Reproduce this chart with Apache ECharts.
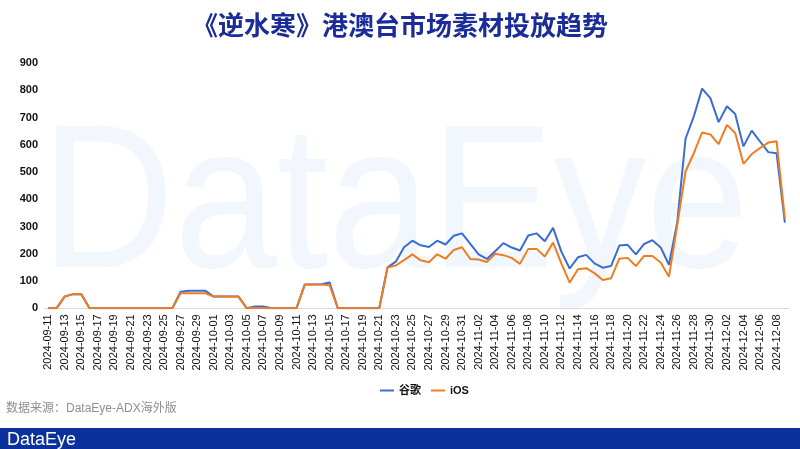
<!DOCTYPE html>
<html>
<head>
<meta charset="utf-8">
<script src="https://cdn.jsdelivr.net/npm/echarts@6/dist/echarts.min.js"></script>
<style>
html,body{margin:0;padding:0;background:#fff;}
#c{width:800px;height:449px;}
</style>
</head>
<body>
<div id="c"></div>
<script>
const categories = [
'2024-09-11','2024-09-12','2024-09-13','2024-09-14','2024-09-15','2024-09-16','2024-09-17','2024-09-18','2024-09-19','2024-09-20',
'2024-09-21','2024-09-22','2024-09-23','2024-09-24','2024-09-25','2024-09-26','2024-09-27','2024-09-28','2024-09-29','2024-09-30',
'2024-10-01','2024-10-02','2024-10-03','2024-10-04','2024-10-05','2024-10-06','2024-10-07','2024-10-08','2024-10-09','2024-10-10',
'2024-10-11','2024-10-12','2024-10-13','2024-10-14','2024-10-15','2024-10-16','2024-10-17','2024-10-18','2024-10-19','2024-10-20',
'2024-10-21','2024-10-22','2024-10-23','2024-10-24','2024-10-25','2024-10-26','2024-10-27','2024-10-28','2024-10-29','2024-10-30',
'2024-10-31','2024-11-01','2024-11-02','2024-11-03','2024-11-04','2024-11-05','2024-11-06','2024-11-07','2024-11-08','2024-11-09',
'2024-11-10','2024-11-11','2024-11-12','2024-11-13','2024-11-14','2024-11-15','2024-11-16','2024-11-17','2024-11-18','2024-11-19',
'2024-11-20','2024-11-21','2024-11-22','2024-11-23','2024-11-24','2024-11-25','2024-11-26','2024-11-27','2024-11-28','2024-11-29',
'2024-11-30','2024-12-01','2024-12-02','2024-12-03','2024-12-04','2024-12-05','2024-12-06','2024-12-07','2024-12-08','2024-12-09'
];
const googleValues = [
0,0,43,52,52,0,0,0,0,0,
0,0,0,0,0,0,61,64,64,64,
43,43,43,43,0,7,7,0,0,0,
0,87,87,88,95,0,0,0,0,0,
0,150,171,224,248,231,225,248,234,266,
275,236,198,181,209,239,223,212,267,275,
246,295,208,146,187,196,165,149,155,230,
233,198,236,250,223,160,315,622,704,806,
771,683,741,713,594,652,612,573,569,314
];
const iosValues = [
0,0,43,52,52,0,0,0,0,0,
0,0,0,0,0,0,55,55,55,55,
43,43,43,43,0,1,1,0,0,0,
0,87,87,87,85,0,0,0,0,0,
0,150,157,177,198,176,169,198,182,214,
224,181,179,170,200,195,185,163,218,218,
190,241,165,94,143,147,129,104,110,182,
185,155,192,192,168,116,305,502,569,645,
638,602,673,643,530,566,588,608,613,330
];
const seriesNames = ['谷歌','iOS'];
const yTicks = {min:0, max:900, interval:100};
const titleText = '《逆水寒》港澳台市场素材投放趋势';
const sourceText = '数据来源：DataEye-ADX海外版';

const chart = echarts.init(document.getElementById('c'), null, {renderer:'canvas'});
const latin = '"Liberation Sans", Arial, "Noto Sans CJK SC", sans-serif';
chart.setOption({
  animation:false,
  backgroundColor:'#ffffff',
  graphic:[
    {type:'text', x:41, y:108, scaleX:0.9, z:-10, silent:true,
     style:{text:'DataEye', fill:'#f1f7fd', font:'normal 205px "Liberation Sans", Arial, sans-serif'}},
    {type:'text', left:'center', top:12, z:10,
     style:{text:titleText, fill:'#1b2c98', font:'bold 26px "Noto Sans CJK SC", sans-serif',
            textShadowColor:'rgba(120,150,220,0.6)', textShadowOffsetX:1.5, textShadowOffsetY:1.5, textShadowBlur:0}},
    {type:'text', left:6, top:403,
     style:{text:sourceText, fill:'#8f8f8f', font:'normal 12px "Liberation Sans", "Noto Sans CJK SC", sans-serif'}},
    {type:'rect', left:0, top:428, z:5, shape:{width:800, height:21}, style:{fill:'#0a319c'}},
    {type:'text', left:7, top:431, z:6,
     style:{text:'DataEye', fill:'#ffffff', font:'normal 18px "Liberation Sans", Arial, sans-serif'}}
  ],
  legend:{
    data:seriesNames, left:375, top:380, icon:'rect', itemWidth:14, itemHeight:2, itemGap:10,
    textStyle:{color:'#111', fontSize:11, fontWeight:'bold', fontFamily:latin}
  },
  grid:{left:44, right:11, top:63, bottom:140.7, containLabel:false},
  xAxis:{
    type:'category', data:categories, boundaryGap:true,
    axisLine:{show:true, lineStyle:{color:'#d9d9d9', width:1}},
    axisTick:{show:false},
    axisLabel:{interval:1, rotate:90, margin:6, color:'#111', fontSize:11, fontFamily:latin}
  },
  yAxis:{
    type:'value', min:yTicks.min, max:yTicks.max, interval:yTicks.interval,
    axisLine:{show:false}, axisTick:{show:false}, splitLine:{show:false},
    axisLabel:{margin:6, color:'#111', fontSize:11, fontWeight:'bold', fontFamily:latin}
  },
  series:[
    {name:seriesNames[0], type:'line', data:googleValues, symbol:'none', z:2,
     lineStyle:{color:'#3a6cd4', width:2}, itemStyle:{color:'#3a6cd4'}},
    {name:seriesNames[1], type:'line', data:iosValues, symbol:'none', z:3,
     lineStyle:{color:'#f07c22', width:2}, itemStyle:{color:'#f07c22'}}
  ]
});
</script>
</body>
</html>
